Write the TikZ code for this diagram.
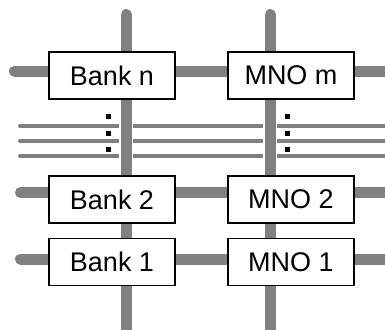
\documentclass[tikz,border=0pt]{standalone}
\usepackage{fontspec}
\setmainfont{Liberation Sans}
\definecolor{bargray}{HTML}{808080}
\begin{document}
\begin{tikzpicture}[x=1pt,y=-1pt,
  box/.style={draw=black,line width=1.8pt,fill=white,minimum width=126pt,minimum height=47pt,inner sep=0pt,font=\fontsize{27}{32}\selectfont},
  thickbar/.style={draw=bargray,line width=11pt,line cap=round},
  thinbar/.style={draw=bargray,line width=4pt,line cap=round},
  vbar/.style={draw=bargray,line width=11pt,line cap=round,preaction={draw=white,line width=14pt,line cap=butt}},
  dotbox/.style={fill=black,minimum size=5pt,inner sep=0pt}]
\useasboundingbox (0,0) rectangle (385,329);
\begin{scope}
\clip (0,0) rectangle (385,329);
% thin lines
\coordinate (t1a) at (20,126); \coordinate (t1b) at (395,126);
\coordinate (t2a) at (20,141); \coordinate (t2b) at (395,141);
\coordinate (t3a) at (20,156); \coordinate (t3b) at (395,156);
\draw[thinbar] (t1a) -- (t1b);
\draw[thinbar] (t2a) -- (t2b);
\draw[thinbar] (t3a) -- (t3b);
% thick horizontal bars
\coordinate (hna) at (14.5,71); \coordinate (hnb) at (400,71);
\coordinate (h2a) at (20.5,192.5); \coordinate (h2b) at (400,192.5);
\coordinate (h1a) at (20.5,259); \coordinate (h1b) at (400,259);
\draw[thickbar] (hna) -- (hnb);
\draw[thickbar] (h2a) -- (h2b);
\draw[thickbar] (h1a) -- (h1b);
% vertical bars
\coordinate (vla) at (126,14.5); \coordinate (vlb) at (126,345);
\coordinate (vra) at (270,14.5); \coordinate (vrb) at (270,345);
\draw[vbar] (vla) -- (vlb);
\draw[vbar] (vra) -- (vrb);
\end{scope}
% boxes
\node[box] (bankn) at (112,75.5) {Bank n};
\node[box] (mnom) at (291,75.5) {MNO m};
\node[box] (bank2) at (112,199.5) {Bank 2};
\node[box] (mno2) at (291,199.5) {MNO 2};
\node[box] (bank1) at (112,262) {Bank 1};
\node[box] (mno1) at (291,262) {MNO 1};
% dots
\node[dotbox] (dl1) at (108.5,116.5) {};
\node[dotbox] (dl2) at (108.5,133.5) {};
\node[dotbox] (dl3) at (108.5,149.5) {};
\node[dotbox] (dr1) at (287,116.5) {};
\node[dotbox] (dr2) at (287,133.5) {};
\node[dotbox] (dr3) at (287,149.5) {};
\end{tikzpicture}
\end{document}
